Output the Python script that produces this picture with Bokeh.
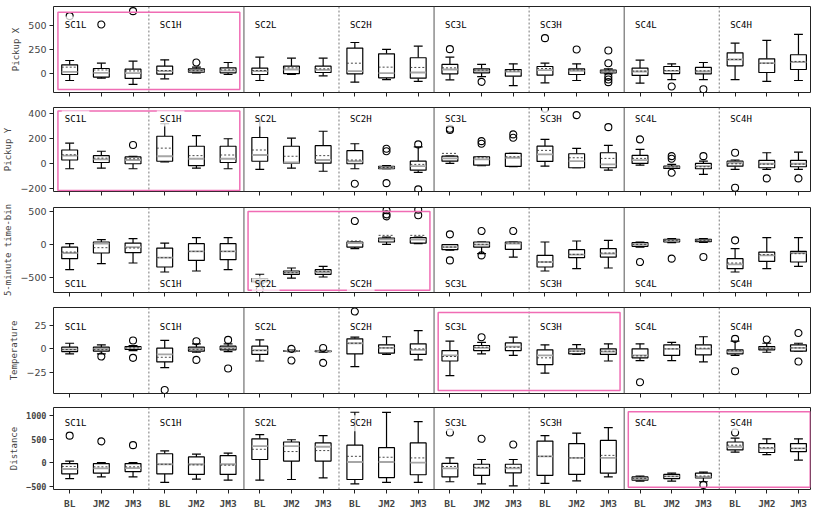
import numpy as np
from bokeh.plotting import figure
from bokeh.models import Range1d, Span, Label, FixedTicker, BoxAnnotation
from bokeh.layouts import column
from bokeh.embed import file_html
from bokeh.resources import INLINE

# ---------------- data ----------------
groups = ["SC1L", "SC1H", "SC2L", "SC2H", "SC3L", "SC3H", "SC4L", "SC4H"]
methods = ["BL", "JM2", "JM3"]
metric_names = ["Pickup X", "Pickup Y", "5-minute time-bin", "Temperature", "Distance"]

# Pickup X
px_low = [-69, -45, -110, -52, 10, -7, -69, -7, -21, -86, -59, -79, -62, -28, -121, -93, -69, 0, -97, -59, -59, -59, -79, -69]
px_q1 = [-7, -34, -48, -3, 17, 10, -7, 3, 14, 0, -41, -45, 0, 10, -24, -14, -7, 10, -17, 3, 0, 83, 14, 45]
px_med = [20, 10, 7, 28, 31, 34, 28, 45, 41, 28, 7, 14, 45, 31, 24, 38, 31, 24, 24, 31, 24, 148, 110, 121]
px_mean = [69, 40, 30, 34, 33, 41, 34, 62, 52, 110, 69, 66, 62, 38, 31, 55, 41, 30, 28, 34, 31, 148, 110, 128]
px_q3 = [93, 55, 48, 79, 52, 62, 59, 79, 79, 266, 207, 166, 97, 52, 45, 76, 52, 38, 59, 76, 66, 217, 155, 197]
px_high = [138, 110, 131, 145, 69, 117, 172, 162, 162, 324, 252, 286, 172, 97, 103, 110, 103, 52, 141, 103, 117, 317, 345, 407]
px_out = [[597], [510], [648], [], [117], [], [], [], [], [], [], [], [255], [-83], [], [369], [252],
          [241, 110, -31, -59, -86], [], [-131], [-159], [], [], []]

# Pickup Y
py_low = [-40, -35, -40, 15, -35, -40, -45, -35, -60, -40, -40, -69, 3, -16, -24, -19, -32, -51, -11, -37, -85, -45, -45, -45]
py_q1 = [30, 10, 0, 20, -15, 10, 20, 5, 5, 0, -40, -51, 21, -11, -21, 19, -32, -32, 3, -37, -40, -19, -32, -24]
py_med = [65, 35, 30, 60, 40, 40, 70, 10, 30, 20, -30, -19, 43, 35, 48, 75, 21, -5, 29, -27, -19, 8, 0, 0]
py_mean = [72, 45, 40, 125, 65, 70, 110, 60, 65, 30, -30, -5, 83, 48, 56, 107, 48, 43, 43, -25, -24, 0, -3, -3]
py_q3 = [110, 65, 55, 220, 140, 140, 210, 140, 145, 105, -20, 21, 61, 56, 83, 141, 80, 88, 67, -19, 3, 21, 27, 27]
py_high = [165, 100, 60, 320, 225, 200, 340, 205, 260, 160, -15, 135, 61, 56, 83, 195, 123, 147, 115, -5, 21, 30, 88, 93]
py_out = [[], [], [150], [], [], [], [], [], [], [-160], [120, 100, -155], [155, -205], [270, 280], [181, 160],
          [235, 208], [440], [389], [293], [195], [61, 40, -72], [61], [88, -192], [-117], [-117]]

# 5-minute time-bin
tb_low = [-386, -294, -284, -421, -406, -386, -600, -513, -497, -66, 0, 10, -90, -142, -193, -406, -371, -360, -41, 25, 30, -421, -371, -335]
tb_q1 = [-218, -132, -127, -345, -244, -234, -570, -457, -457, -41, 36, 20, -81, -41, -76, -345, -203, -193, -30, 36, 41, -371, -259, -269]
tb_med = [-132, 10, -41, -203, -107, -107, -545, -431, -421, 20, 76, 71, -41, -5, 10, -269, -157, -142, 0, 61, 61, -305, -168, -132]
tb_mean = [-117, -51, -56, -203, -107, -107, -545, -431, -411, 51, 137, 137, -41, 0, 20, -269, -152, -132, 0, 61, 61, -284, -157, -142]
tb_q3 = [-41, 36, 20, -56, 10, 10, -520, -406, -386, 36, 96, 102, -5, 36, 36, -168, -81, -66, 25, 76, 76, -218, -117, -107]
tb_high = [10, 71, 86, 20, 102, 102, -455, -360, -335, 36, 110, 110, -5, 36, 36, 36, 51, 61, 36, 86, 86, -66, 102, 102]
tb_out = [[], [], [], [], [], [], [-690], [], [], [355], [518, 457, 426], [528, 442], [152, -244], [203, -168],
          [203], [], [], [], [-269], [-218], [-193], [61], [], []]

# Temperature
te_low = [-5.4, -5.4, -1.8, -20, -3.6, -2.9, -13, -3, -3.5, -19, -6, -11.8, -28.6, -5.4, -7, -26, -6, -13, -12.5, -12.5, -14, -7, -3.6, -2.5]
te_q1 = [-2.9, -2.5, -0.7, -14, -2.5, -1, -6, -2.6, -3, -5.4, -4.6, -6, -13, -1.8, -1.8, -16.8, -5.4, -6, -9.6, -7, -6.4, -5.4, -1, -2.5]
te_med = [-0.7, 0, 1, -6, 0, 1, -1.5, -2.2, -2.5, 6, 1, -1, -7, 1, 2.5, -7, -2.5, -2.9, -7, 0, 0, -2.9, 0.7, 1]
te_mean = [-0.7, -0.8, 1, -9, -0.5, 0, -1.8, -2.2, -2.5, 6, 1, 0, -8.2, 1.8, 1.8, -9.6, -2.5, -2.5, -7.5, 0, 0.7, -2, 0.7, 1]
te_q3 = [1.8, 1.8, 2.5, 0.7, 1.8, 2.9, 2.9, -1.8, -2, 10.7, 4.3, 5.4, -1.8, 3.6, 6.4, -1, 0, 0, 0, 4.3, 4.3, -1, 2.5, 4.3]
te_high = [6, 4.3, 3.6, 9, 5.4, 5.4, 9.6, -1.2, -1.5, 12.5, 13, 19.6, 8.2, 7, 12.5, 4.3, 4.6, 5.4, 5.4, 7, 13, 8.2, 6, 6]
te_out = [[], [-8.2], [8.9, -9.6], [-44], [8.2, -11.8], [9.6, -21], [], [0, -12.5], [1, -15], [40], [], [], [], [12.5],
          [], [], [], [], [-35.7], [], [], [10.7, -24], [10], [17, -13.6]]

# Distance
di_low = [-325, -292, -292, -405, -339, -359, -359, -345, -312, -438, -405, -405, -392, -438, -478, -425, -372, -292, -378, -378, -392, 226, 173, 60]
di_q1 = [-226, -212, -179, -226, -239, -239, 73, 40, 40, -345, -305, -246, -292, -259, -206, -259, -239, -212, -359, -325, -312, 272, 219, 239]
di_med = [-126, -113, -106, -27, -27, -27, 352, 352, 339, 20, 20, 7, -113, -106, -113, 139, 106, 106, -325, -279, -292, 339, 305, 305]
di_mean = [-73, -80, -80, -27, -40, -46, 286, 239, 259, 139, 120, 106, -73, -93, -93, 139, 106, 159, -320, -279, -272, 372, 319, 305]
di_q3 = [-13, -13, -13, 193, 126, 153, 505, 438, 418, 372, 319, 418, -7, -27, -27, 458, 405, 471, -292, -239, -212, 438, 405, 405]
di_high = [40, 7, 7, 252, 186, 206, 591, 485, 571, 1060, 1056, 863, 106, 73, 73, 571, 624, 737, -272, -212, -193, 518, 505, 505]
di_out = [[571], [452], [372], [], [], [], [], [], [], [], [], [], [637], [505], [385], [], [], [], [], [], [-458],
          [637], [], []]

y_ticks = [[0, 250, 500], [-200, 0, 200, 400], [-500, 0, 500], [-25, 0, 25], [-500, 0, 500, 1000]]

# ---------------- layout / style ----------------
rows = [
    (px_low, px_q1, px_med, px_mean, px_q3, px_high, px_out),
    (py_low, py_q1, py_med, py_mean, py_q3, py_high, py_out),
    (tb_low, tb_q1, tb_med, tb_mean, tb_q3, tb_high, tb_out),
    (te_low, te_q1, te_med, te_mean, te_q3, te_high, te_out),
    (di_low, di_q1, di_med, di_mean, di_q3, di_high, di_out),
]
Y_RANGES = [(-193, 696), (-222, 450), (-733, 561), (-47.8, 44.3), (-554, 1159)]
FRAME_H = [86, 84, 85, 86, 86]
B_TOP = [6, 5, 6, 5, 4]
B_BOT = [10, 10, 10, 10, 18]
LABEL_POS = [("top", 10), ("top", 3), ("bottom", 8.7), ("top", 11), ("top", 8)]
HILITE = [(0, -162, 636), (0, -213, 422), (1, -700, 502), (2, -44.7, 39), (3, -506, 1068)]
X_RANGE = (0.49, 24.38)
MONO = "DejaVu Sans Mono"
SANS = "DejaVu Sans"
PINK = "#f06cb4"

xs = np.arange(1, 25)
BW = 0.25   # half box width
CW = 0.14   # half cap width

figs = []
for i, (lo_, q1_, med_, mean_, q3_, hi_, out_) in enumerate(rows):
    ylo, yhi = Y_RANGES[i]
    last = i == len(rows) - 1
    p = figure(width=812, height=B_TOP[i] + FRAME_H[i] + B_BOT[i],
               x_range=Range1d(*X_RANGE), y_range=Range1d(ylo, yhi),
               output_backend="svg", toolbar_location=None, title=None,
               min_border_left=45, min_border_right=2,
               min_border_top=B_TOP[i], min_border_bottom=B_BOT[i],
               background_fill_color="white", border_fill_color="white")
    p.grid.visible = False
    p.outline_line_color = "#222222"
    p.outline_line_width = 1

    lo_a, q1_a, med_a, mean_a, q3_a, hi_a = map(np.asarray, (lo_, q1_, med_, mean_, q3_, hi_))
    # whiskers
    p.segment(x0=xs, y0=q3_a, x1=xs, y1=hi_a, line_color="black", line_width=1.2)
    p.segment(x0=xs, y0=lo_a, x1=xs, y1=q1_a, line_color="black", line_width=1.2)
    p.segment(x0=xs - CW, y0=hi_a, x1=xs + CW, y1=hi_a, line_color="black", line_width=1.2)
    p.segment(x0=xs - CW, y0=lo_a, x1=xs + CW, y1=lo_a, line_color="black", line_width=1.2)
    # boxes
    p.quad(left=xs - BW, right=xs + BW, bottom=q1_a, top=q3_a,
           fill_color="white", line_color="black", line_width=1.2)
    # median and mean
    p.segment(x0=xs - BW, y0=med_a, x1=xs + BW, y1=med_a, line_color="#a6a6a6", line_width=1.8)
    p.segment(x0=xs - BW, y0=mean_a, x1=xs + BW, y1=mean_a, line_color="#333333",
              line_width=0.9, line_dash="2 2")
    # outliers
    ox = [x for x, vals in zip(xs, out_) for _ in vals]
    oy = [v for vals in out_ for v in vals]
    p.scatter(x=ox, y=oy, marker="circle", size=7, fill_color=None,
              line_color="black", line_width=1.1)

    # separators
    for s in [6.5, 12.5, 18.5]:
        p.add_layout(Span(location=s, dimension="height", line_color="#555555", line_width=1))
    for s in [3.5, 9.5, 15.5, 21.5]:
        p.add_layout(Span(location=s, dimension="height", line_color="#555555",
                          line_width=0.8, line_dash="2 2"))

    # highlight rectangle
    k, hb, ht = HILITE[i]
    p.add_layout(BoxAnnotation(left=0.63 + 6 * k, right=6.37 + 6 * k, bottom=hb, top=ht,
                               fill_alpha=0, fill_color=None, line_color=PINK,
                               line_width=1.5, line_alpha=1))

    # group labels
    where, off = LABEL_POS[i]
    upp = (yhi - ylo) / FRAME_H[i]
    if where == "top":
        ly, base = yhi - off * upp, "top"
    else:
        ly, base = ylo + off * upp, "alphabetic"
    for g, name in enumerate(groups):
        p.add_layout(Label(x=0.75 + 3 * g, y=ly, text=name, text_font=MONO,
                           text_font_size="9px", text_color="black", text_baseline=base,
                           background_fill_color="white", background_fill_alpha=0.75,
                           padding=3))

    # axes
    xa = p.xaxis[0]
    xa.ticker = FixedTicker(ticks=list(xs))
    xa.axis_line_color = None
    xa.major_tick_out = 4
    xa.major_tick_in = 0
    xa.major_tick_line_color = "#222222"
    xa.minor_tick_line_color = None
    if last:
        xa.major_label_overrides = {int(x): methods[(int(x) - 1) % 3] for x in xs}
        xa.major_label_text_font = MONO
        xa.major_label_text_font_style = "bold"
        xa.major_label_text_font_size = "9.5px"
        xa.major_label_standoff = 4
    else:
        xa.major_label_overrides = {int(x): "" for x in xs}
        xa.major_label_text_font_size = "1px"
        xa.major_label_standoff = 0

    ya = p.yaxis[0]
    ya.ticker = FixedTicker(ticks=y_ticks[i])
    ya.axis_line_color = None
    ya.major_tick_out = 4
    ya.major_tick_in = 0
    ya.major_tick_line_color = "#222222"
    ya.minor_tick_line_color = None
    ya.major_label_standoff = 3
    if last:
        ya.major_label_text_font = MONO
        ya.major_label_text_font_style = "bold"
        ya.major_label_text_font_size = "8.5px"
    else:
        ya.major_label_overrides = {t: ("\u2212" + str(abs(t)) if t < 0 else str(t)) for t in y_ticks[i]}
        ya.major_label_text_font = SANS
        ya.major_label_text_font_size = "9.5px"
    ya.axis_label = metric_names[i]
    ya.axis_label_text_font = MONO
    ya.axis_label_text_font_size = "9px"
    ya.axis_label_text_font_style = "normal"
    ya.axis_label_standoff = 4
    figs.append(p)

layout = column(*figs, spacing=0)
open("out.html", "w").write(file_html(layout, INLINE))
